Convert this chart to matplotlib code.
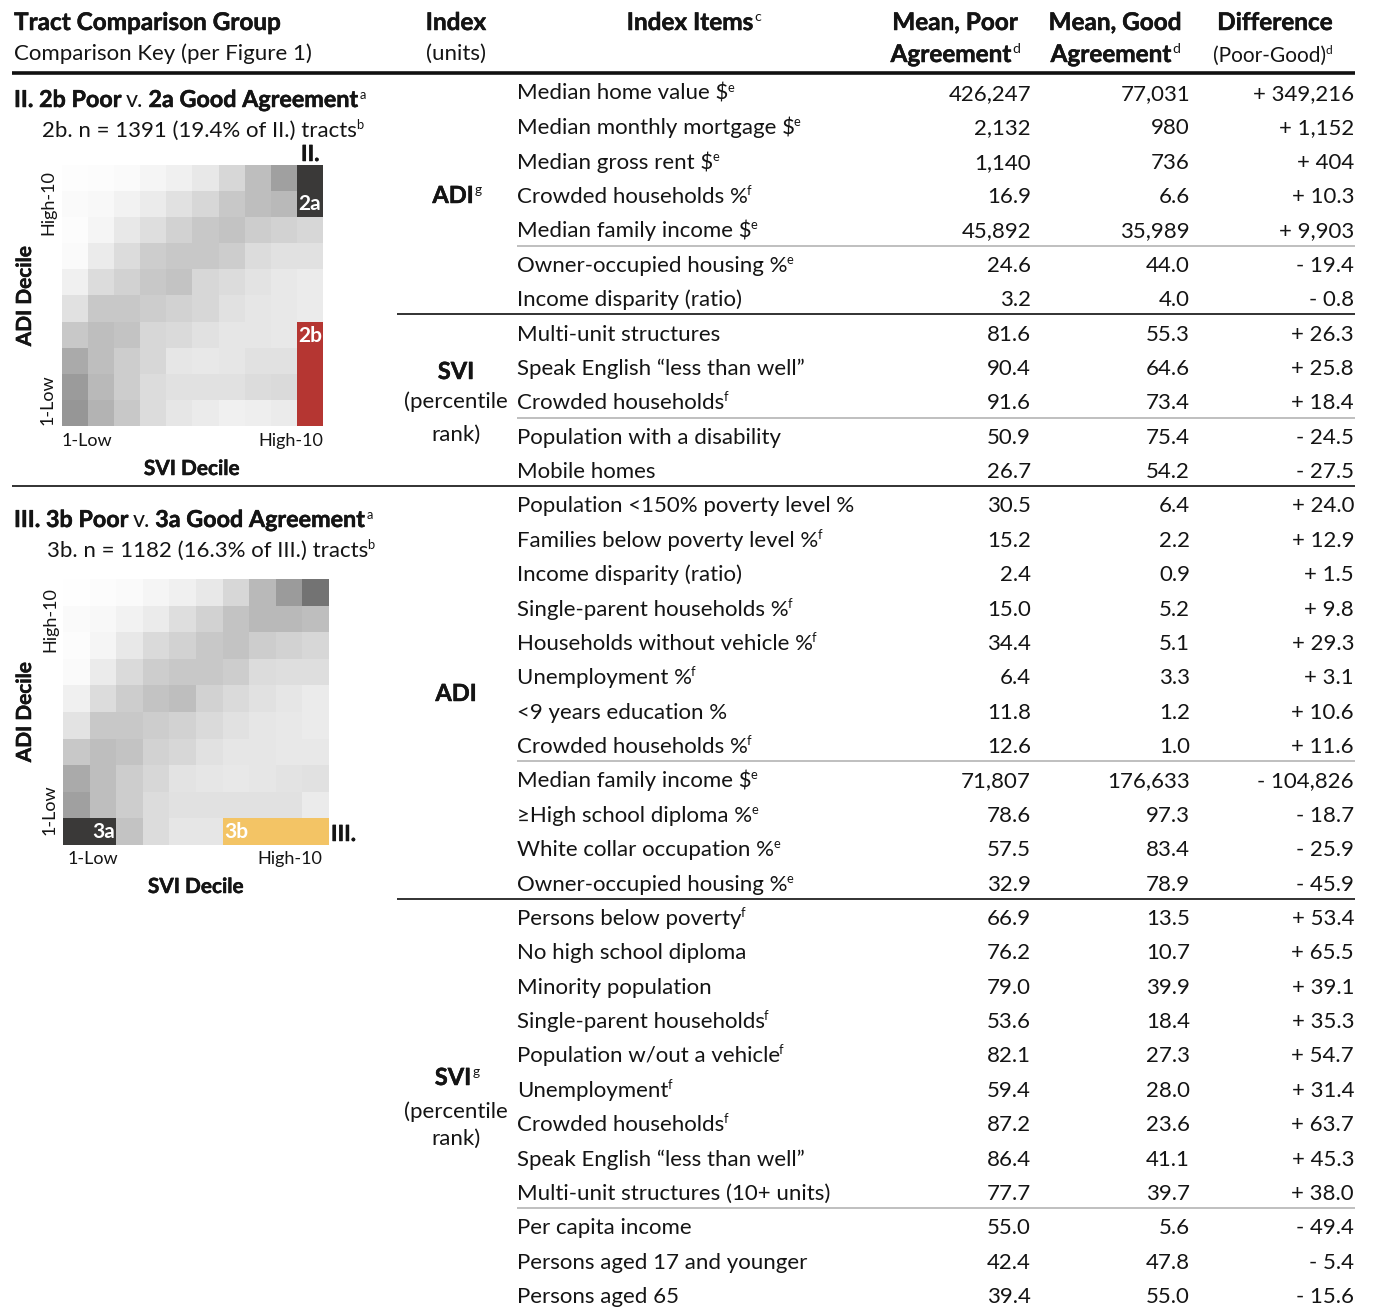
import matplotlib
matplotlib.use('Agg')
import matplotlib.pyplot as plt
import matplotlib.patheffects as pe
from matplotlib.patches import Rectangle
import numpy as np

plt.rcParams['font.family'] = ['Lato', 'DejaVu Sans']

# ---- table data ----
items = ["Median home value $", "Median monthly mortgage $", "Median gross rent $",
         "Crowded households %", "Median family income $", "Owner-occupied housing %",
         "Income disparity (ratio)", "Multi-unit structures", "Speak English \u201cless than well\u201d",
         "Crowded households", "Population with a disability", "Mobile homes",
         "Population <150% poverty level %", "Families below poverty level %",
         "Income disparity (ratio)", "Single-parent households %", "Households without vehicle %",
         "Unemployment %", "<9 years education %", "Crowded households %",
         "Median family income $", "\u2265High school diploma %", "White collar occupation %",
         "Owner-occupied housing %", "Persons below poverty", "No high school diploma",
         "Minority population", "Single-parent households", "Population w/out a vehicle",
         "Unemployment", "Crowded households", "Speak English \u201cless than well\u201d",
         "Multi-unit structures (10+ units)", "Per capita income",
         "Persons aged 17 and younger", "Persons aged 65"]
item_sup = ["e", "e", "e", "f", "e", "e", "", "", "", "f", "", "",
            "", "f", "", "f", "f", "f", "", "f", "e", "e", "e", "e",
            "f", "", "", "f", "f", "f", "f", "", "", "", "", ""]
mean_poor = ["426,247", "2,132", "1,140", "16.9", "45,892", "24.6", "3.2", "81.6", "90.4",
             "91.6", "50.9", "26.7",
             "30.5", "15.2", "2.4", "15.0", "34.4", "6.4", "11.8", "12.6", "71,807", "78.6",
             "57.5", "32.9", "66.9", "76.2", "79.0", "53.6", "82.1", "59.4", "87.2", "86.4",
             "77.7", "55.0", "42.4", "39.4"]
mean_good = ["77,031", "980", "736", "6.6", "35,989", "44.0", "4.0", "55.3", "64.6",
             "73.4", "75.4", "54.2",
             "6.4", "2.2", "0.9", "5.2", "5.1", "3.3", "1.2", "1.0", "176,633", "97.3",
             "83.4", "78.9", "13.5", "10.7", "39.9", "18.4", "27.3", "28.0", "23.6", "41.1",
             "39.7", "5.6", "47.8", "55.0"]
difference = ["+ 349,216", "+ 1,152", "+ 404", "+ 10.3", "+ 9,903", "- 19.4", "- 0.8",
              "+ 26.3", "+ 25.8", "+ 18.4", "- 24.5", "- 27.5",
              "+ 24.0", "+ 12.9", "+ 1.5", "+ 9.8", "+ 29.3", "+ 3.1", "+ 10.6", "+ 11.6",
              "- 104,826", "- 18.7", "- 25.9", "- 45.9", "+ 53.4", "+ 65.5", "+ 39.1",
              "+ 35.3", "+ 54.7", "+ 31.4", "+ 63.7", "+ 45.3", "+ 38.0", "- 49.4",
              "- 5.4", "- 15.6"]

# ---- heatmap shading (0-255 gray), top row = ADI decile 10, cols = SVI 1..10 ----
grid_II = [
    [253, 252, 250, 245, 240, 232, 215, 190, 160, 60],
    [250, 248, 242, 235, 225, 215, 200, 190, 185, 60],
    [252, 245, 232, 222, 210, 200, 195, 205, 210, 215],
    [250, 235, 220, 205, 200, 200, 205, 220, 225, 225],
    [240, 220, 210, 200, 195, 215, 220, 228, 232, 235],
    [225, 200, 200, 205, 210, 215, 225, 230, 232, 235],
    [200, 190, 195, 215, 218, 225, 230, 230, 232, 235],
    [170, 190, 205, 215, 230, 232, 230, 225, 225, 235],
    [155, 185, 205, 220, 225, 225, 225, 220, 218, 235],
    [150, 180, 200, 220, 230, 235, 240, 238, 235, 235],
]
grid_III = [
    [254, 252, 250, 245, 240, 232, 215, 185, 155, 115],
    [250, 248, 242, 235, 222, 210, 195, 185, 185, 190],
    [252, 245, 232, 218, 210, 200, 195, 205, 210, 215],
    [250, 235, 218, 205, 200, 200, 205, 220, 222, 222],
    [240, 220, 205, 195, 190, 210, 218, 225, 230, 235],
    [228, 200, 200, 205, 210, 218, 225, 230, 232, 235],
    [200, 190, 195, 210, 215, 225, 230, 230, 232, 232],
    [170, 190, 205, 215, 228, 230, 232, 230, 228, 225],
    [160, 190, 205, 220, 225, 225, 225, 225, 225, 235],
    [60, 60, 195, 220, 230, 230, 235, 235, 235, 235],
]

W, H = 1374, 1308
INK = '#141414'
FS = 16
HFS = 17.5   # bold header size
heavy = [pe.withStroke(linewidth=0.35, foreground=INK)]

fig = plt.figure(figsize=(W / 100, H / 100), dpi=100)
ax = fig.add_axes([0, 0, 1, 1])
ax.set_xlim(0, W)
ax.set_ylim(H, 0)
ax.axis('off')
rend = fig.canvas.get_renderer()


def txt(x, y, s, size=FS, bold=False, ha='left', sup=None, color=INK, **kw):
    t = ax.text(x, y, s, fontsize=size, fontweight='bold' if bold else 'normal',
                ha=ha, va='baseline', color=color,
                path_effects=heavy if bold else None, **kw)
    if sup:
        x1 = t.get_window_extent(rend).x1 + (2 if bold else 0)
        ax.text(x1 - 1, y - size * 0.5, sup, fontsize=size * 0.58, ha='left',
                va='baseline', color=color)
    return t


def chain(x, y, parts, size=FS):
    for s, b in parts:
        t = txt(x, y, s, size=size, bold=b)
        x = t.get_window_extent(rend).x1 + size * 0.3
    return x


# ---- header ----
txt(14, 30, "Tract Comparison Group", bold=True, size=HFS)
txt(14, 60, "Comparison Key (per Figure 1)")
txt(456, 30, "Index", bold=True, ha='center', size=HFS)
txt(456, 60, "(units)", ha='center')
txt(690, 30, "Index Items", bold=True, ha='center', sup='c', size=HFS)
txt(955, 30, "Mean, Poor", bold=True, ha='center', size=HFS)
txt(951, 62, "Agreement", bold=True, ha='center', sup='d', size=HFS)
txt(1115, 30, "Mean, Good", bold=True, ha='center', size=HFS)
txt(1111, 62, "Agreement", bold=True, ha='center', sup='d', size=HFS)
txt(1275, 30, "Difference", bold=True, ha='center', size=HFS)
txt(1270, 62, "(Poor-Good)", size=15, ha='center', sup='d')
ax.plot([12, 1355], [73, 73], color='#111111', lw=2.6, solid_capstyle='butt')

# ---- rows ----
y0, step = 92, (1295 - 92) / 35
for i in range(len(items)):
    yb = y0 + i * step + 8
    txt(517, yb, items[i], sup=item_sup[i] or None)
    txt(1031, yb, mean_poor[i], ha='right')
    txt(1190, yb, mean_good[i], ha='right')
    txt(1354, yb, difference[i], ha='right')

# dividers: (after row, start x, colour, width)
for r, xs, c, lw in [(4, 517, '#b4b4b4', 1.2), (6, 397, '#222222', 1.3),
                     (9, 517, '#b4b4b4', 1.2), (11, 12, '#222222', 1.3),
                     (19, 517, '#b4b4b4', 1.2), (23, 397, '#222222', 1.3),
                     (32, 517, '#b4b4b4', 1.2)]:
    yl = y0 + (r + 0.5) * step - 1
    ax.plot([xs, 1355], [yl, yl], color=c, lw=lw, solid_capstyle='butt')

# ---- index column ----
txt(453, 203, "ADI", bold=True, ha='center', sup='g', size=17)
txt(456, 379, "SVI", bold=True, ha='center', size=17)
txt(456, 408, "(percentile", ha='center')
txt(456, 441, "rank)", ha='center')
txt(456, 701, "ADI", bold=True, ha='center', size=17)
txt(453, 1085, "SVI", bold=True, ha='center', sup='g', size=17)
txt(456, 1118, "(percentile", ha='center')
txt(456, 1145, "rank)", ha='center')

# ---- comparison group text ----
xe = chain(14, 107, [("II. 2b Poor", True), ("v.", False), ("2a Good Agreement", True)], size=16.8)
ax.text(xe - 3, 107 - 8, "a", fontsize=FS * 0.58, color=INK, va='baseline')
txt(42, 137, "2b. n = 1391 (19.4% of II.) tracts", sup='b')
xe = chain(14, 527, [("III. 3b Poor", True), ("v.", False), ("3a Good Agreement", True)], size=16.8)
ax.text(xe - 3, 527 - 8, "a", fontsize=FS * 0.58, color=INK, va='baseline')
txt(47, 557, "3b. n = 1182 (16.3% of III.) tracts", sup='b')


# ---- heatmaps ----
def heat(grid, x0, y0_, size):
    hax = fig.add_axes([x0 / W, 1 - (y0_ + size) / H, size / W, size / H])
    g = np.array(grid) / 255.0
    hax.imshow(g, cmap='gray', vmin=0, vmax=1, extent=(0.5, 10.5, 0.5, 10.5),
               interpolation='nearest', aspect='auto')
    hax.set_xlim(0.5, 10.5)
    hax.set_ylim(0.5, 10.5)
    hax.axis('off')
    return hax


h1 = heat(grid_II, 62, 165, 261)
h1.add_patch(Rectangle((9.5, 8.5), 1, 2, color='#3a3938', lw=0))
h1.add_patch(Rectangle((9.5, 0.5), 1, 4, color='#b53632', lw=0))
h1.text(10, 9.0, "2a", color='white', fontsize=15, fontweight='bold', ha='center', va='center')
h1.text(10, 3.95, "2b", color='white', fontsize=15, fontweight='bold', ha='center', va='center')

h2 = heat(grid_III, 63, 579, 266)
h2.add_patch(Rectangle((0.5, 0.5), 2, 1, color='#3a3938', lw=0))
h2.add_patch(Rectangle((6.5, 0.5), 4, 1, color='#f3c465', lw=0))
h2.text(2.45, 1.0, "3a", color='white', fontsize=15, fontweight='bold', ha='right', va='center')
h2.text(6.55, 1.0, "3b", color='white', fontsize=15, fontweight='bold', ha='left', va='center')

# heatmap labels
txt(301, 161, "II.", bold=True)
ax.text(25, 296, "ADI Decile", fontsize=15, fontweight='bold', rotation=90,
        ha='center', va='center', color=INK, path_effects=heavy)
ax.text(48, 203, "High-10", fontsize=13, rotation=90, ha='center', va='center', color=INK)
ax.text(48, 400, "1-Low", fontsize=13, rotation=90, ha='center', va='center', color=INK)
txt(62, 446, "1-Low", size=13)
txt(323, 446, "High-10", size=13, ha='right')
txt(192, 475, "SVI Decile", bold=True, ha='center', size=15)

txt(331, 841, "III.", bold=True)
ax.text(25, 712, "ADI Decile", fontsize=15, fontweight='bold', rotation=90,
        ha='center', va='center', color=INK, path_effects=heavy)
ax.text(50, 620, "High-10", fontsize=13, rotation=90, ha='center', va='center', color=INK)
ax.text(50, 810, "1-Low", fontsize=13, rotation=90, ha='center', va='center', color=INK)
txt(68, 864, "1-Low", size=13)
txt(322, 864, "High-10", size=13, ha='right')
txt(196, 893, "SVI Decile", bold=True, ha='center', size=15)

fig.savefig('out.png', dpi=100)
